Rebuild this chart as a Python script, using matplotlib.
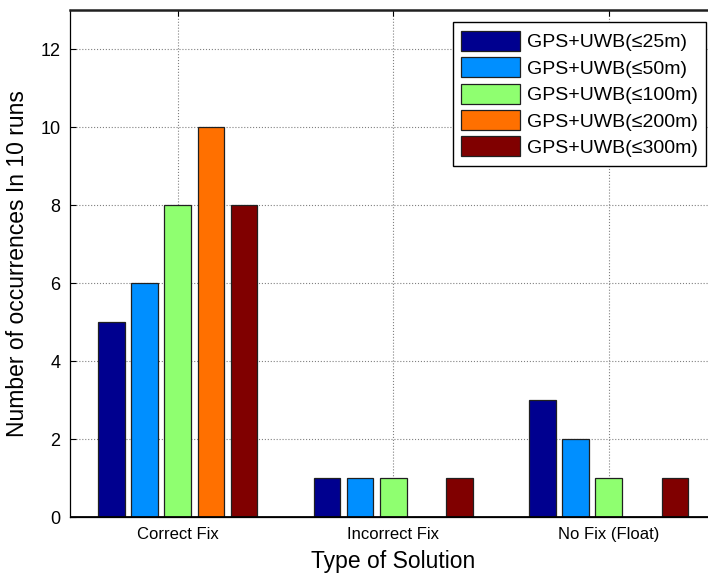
import numpy as np
import matplotlib.pyplot as plt

plt.rcParams['font.family'] = ['Liberation Sans', 'DejaVu Sans']

categories = ['Correct Fix', 'Incorrect Fix', 'No Fix (Float)']
series_names = ['GPS+UWB(≤25m)', 'GPS+UWB(≤50m)', 'GPS+UWB(≤100m)',
                'GPS+UWB(≤200m)', 'GPS+UWB(≤300m)']
counts_25 = [5, 1, 3]
counts_50 = [6, 1, 2]
counts_100 = [8, 1, 1]
counts_200 = [10, 0, 0]
counts_300 = [8, 1, 1]
all_counts = [counts_25, counts_50, counts_100, counts_200, counts_300]
colors = ['#00008F', '#008FFF', '#8FFF70', '#FF7000', '#800000']

fig = plt.figure(figsize=(7.08, 5.78), dpi=100)
# axes run past the right edge, the reference is cropped there
ax = fig.add_axes([70 / 708, 61 / 578, 646.5 / 708, 507 / 578])

x = np.arange(1, len(categories) + 1)
slot = 5 / 6.5 / 5
width = slot * 0.8
for i, vals in enumerate(all_counts):
    ax.bar(x + (i - 2) * slot, vals, width, color=colors[i],
           edgecolor='#202020', linewidth=0.9, label=series_names[i], zorder=3)

ax.axhline(0, color='black', linewidth=2, zorder=4)

ax.set_xlim(0.5, 3.5)
ax.set_ylim(0, 13)
ax.set_yticks(range(0, 13, 2))
ax.set_xticks(x)
ax.set_xticklabels(categories, fontsize=12)
ax.tick_params(axis='y', labelsize=13)
ax.tick_params(direction='in', length=4, top=True, right=True, width=0.8, pad=7)

ax.grid(True, linestyle=':', color='#808080', linewidth=0.8, zorder=0)
ax.set_axisbelow(True)

for side in ['left', 'bottom']:
    ax.spines[side].set_linewidth(0.9)
ax.spines['top'].set_linewidth(1.8)
ax.spines['top'].set_color('#202020')

ax.set_xlabel('Type of Solution', fontsize=16.5, labelpad=6)
ax.set_ylabel('Number of occurrences In 10 runs', fontsize=16.5, labelpad=8)

leg = ax.legend(loc='upper right', bbox_to_anchor=(0.984, 0.976),
                borderaxespad=0, fontsize=14, fancybox=False, framealpha=1,
                edgecolor='black', handlelength=3.0, handleheight=1.2,
                handletextpad=0.35, labelspacing=0.3, borderpad=0.45)
leg.get_frame().set_linewidth(1.0)

fig.savefig('out.png', dpi=100)
